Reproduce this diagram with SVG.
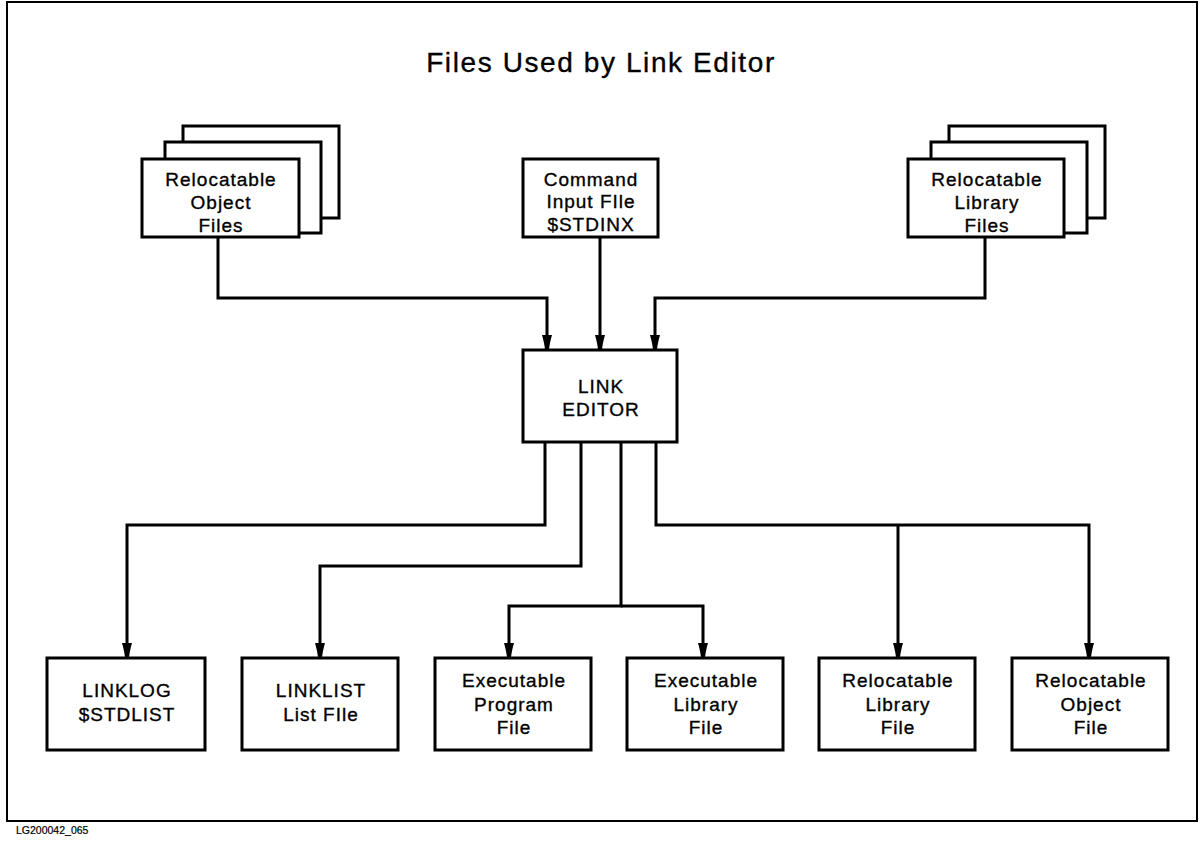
<svg xmlns="http://www.w3.org/2000/svg" width="1202" height="842" viewBox="0 0 1202 842">
  <style>
    .frame { fill: none; stroke: #000; stroke-width: 2; }
    .box { fill: #fff; stroke: #000; stroke-width: 3; }
    .wire { fill: none; stroke: #000; stroke-width: 3; stroke-linejoin: miter; }
    .arrow { marker-end: url(#head); }
    text { font-family: "Liberation Sans", Arial, Helvetica, sans-serif; fill: #000; stroke: #000; stroke-width: 0.35px; }
    .title { font-size: 28px; letter-spacing: 1.6px; text-anchor: middle; }
    .lbl { font-size: 19px; letter-spacing: 1px; text-anchor: middle; }
    .ref { font-size: 10.5px; stroke-width: 0.2px; }
  </style>
  <defs>
    <marker id="head" viewBox="0 0 15 10" refX="15" refY="5" markerWidth="15" markerHeight="10" markerUnits="userSpaceOnUse" orient="auto">
      <path d="M0,0 Q9,2.6 15,3 L15,7 Q9,7.4 0,10 Z" fill="#000"/>
    </marker>
  </defs>

  <!-- page frame -->
  <rect class="frame" x="7" y="2" width="1190" height="819"/>
  <text class="title" x="601" y="72">Files Used by Link Editor</text>
  <text class="ref" x="16" y="834">LG200042_065</text>

  <!-- connectors -->
  <g id="connectors">
    <path class="wire arrow" d="M218,237 V298 H547 V350"/>
    <path class="wire arrow" d="M600,237 V350"/>
    <path class="wire arrow" d="M985,237 V298 H655 V350"/>
    <path class="wire arrow" d="M545,442 V525 H127 V658"/>
    <path class="wire arrow" d="M581,442 V566 H320 V658"/>
    <path class="wire arrow" d="M621,442 V606 H509 V658"/>
    <path class="wire arrow" d="M621,606 H703 V658"/>
    <path class="wire arrow" d="M656,442 V525 H1089 V658"/>
    <path class="wire arrow" d="M898,525 V658"/>
  </g>

  <!-- inputs -->
  <g id="reloc-object-files">
    <rect class="box" x="183" y="126" width="156" height="92"/>
    <rect class="box" x="165" y="142" width="156" height="91"/>
    <rect class="box" x="142" y="159" width="157" height="78"/>
    <text class="lbl" x="221" y="186">Relocatable</text>
    <text class="lbl" x="221" y="209">Object</text>
    <text class="lbl" x="221" y="232">Files</text>
  </g>

  <g id="command-input-file">
    <rect class="box" x="523" y="159" width="135" height="78"/>
    <text class="lbl" x="591" y="186">Command</text>
    <text class="lbl" x="591" y="208">Input FIle</text>
    <text class="lbl" x="591" y="231">$STDINX</text>
  </g>

  <g id="reloc-library-files">
    <rect class="box" x="949" y="126" width="156" height="92"/>
    <rect class="box" x="931" y="142" width="156" height="91"/>
    <rect class="box" x="908" y="159" width="156" height="78"/>
    <text class="lbl" x="987" y="186">Relocatable</text>
    <text class="lbl" x="987" y="209">Library</text>
    <text class="lbl" x="987" y="232">Files</text>
  </g>

  <!-- processor -->
  <g id="link-editor">
    <rect class="box" x="523" y="350" width="154" height="92"/>
    <text class="lbl" x="601" y="393">LINK</text>
    <text class="lbl" x="601" y="416">EDITOR</text>
  </g>

  <!-- outputs -->
  <g id="linklog">
    <rect class="box" x="47" y="658" width="158" height="92"/>
    <text class="lbl" x="127" y="697">LINKLOG</text>
    <text class="lbl" x="127" y="721">$STDLIST</text>
  </g>

  <g id="linklist">
    <rect class="box" x="242" y="658" width="156" height="92"/>
    <text class="lbl" x="321" y="697">LINKLIST</text>
    <text class="lbl" x="321" y="721">List FIle</text>
  </g>

  <g id="exec-program-file">
    <rect class="box" x="435" y="658" width="156" height="92"/>
    <text class="lbl" x="514" y="687">Executable</text>
    <text class="lbl" x="514" y="711">Program</text>
    <text class="lbl" x="514" y="734">File</text>
  </g>

  <g id="exec-library-file">
    <rect class="box" x="627" y="658" width="156" height="92"/>
    <text class="lbl" x="706" y="687">Executable</text>
    <text class="lbl" x="706" y="711">Library</text>
    <text class="lbl" x="706" y="734">File</text>
  </g>

  <g id="reloc-library-file">
    <rect class="box" x="819" y="658" width="156" height="92"/>
    <text class="lbl" x="898" y="687">Relocatable</text>
    <text class="lbl" x="898" y="711">Library</text>
    <text class="lbl" x="898" y="734">File</text>
  </g>

  <g id="reloc-object-file">
    <rect class="box" x="1012" y="658" width="156" height="92"/>
    <text class="lbl" x="1091" y="687">Relocatable</text>
    <text class="lbl" x="1091" y="711">Object</text>
    <text class="lbl" x="1091" y="734">File</text>
  </g>
</svg>
